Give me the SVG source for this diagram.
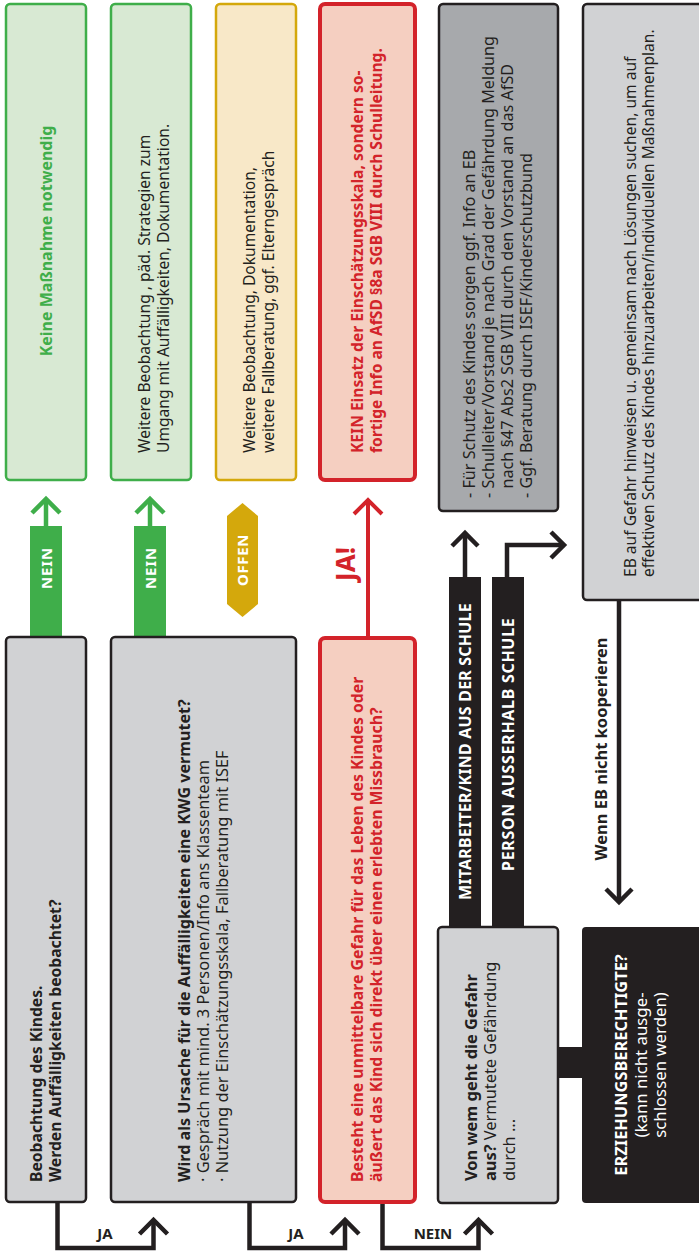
<svg xmlns="http://www.w3.org/2000/svg" width="699" height="1254" viewBox="0 0 699 1254">
<style>
.t{font-family:"Noto Sans","Open Sans","DejaVu Sans",sans-serif;font-size:15px;fill:#231f20}
.b{font-weight:bold}
.w{fill:#ffffff}
.r{fill:#d3232a}
.g{fill:#3fae4a}
.gray{fill:#d1d2d4;stroke:#231f20;stroke-width:2.5}
.dgray{fill:#a7a9ac;stroke:#231f20;stroke-width:2.5}
.gbox{fill:#d8e9d3;stroke:#3fae4a;stroke-width:2.5}
.ybox{fill:#f8e8c8;stroke:#d4a80c;stroke-width:2.5}
.rbox{fill:#f5cfc1;stroke:#d3232a;stroke-width:4}
.ln{fill:none;stroke:#231f20;stroke-width:4.5;stroke-linejoin:miter}
.gln{fill:none;stroke:#3fae4a;stroke-width:4.5}
.rln{fill:none;stroke:#d3232a;stroke-width:4}
</style>
<g id="connectors">
  <path class="ln" d="M57.5,1202 V1248 H153.5 V1221"/>
  <path class="ln" d="M139.5,1234 L153.5,1220 L167.5,1234"/>
  <path class="ln" d="M249.5,1202 V1248 H345 V1221"/>
  <path class="ln" d="M331,1234 L345,1220 L359,1234"/>
  <path class="ln" d="M382.5,1204 V1248 H478.5 V1221"/>
  <path class="ln" d="M464.5,1234 L478.5,1220 L492.5,1234"/>
  <text class="t b" x="105" y="1239" text-anchor="middle">JA</text>
  <text class="t b" x="296" y="1239" text-anchor="middle">JA</text>
  <text class="t b" x="433" y="1239" text-anchor="middle">NEIN</text>
  <rect x="30" y="526" width="32" height="111" fill="#3fae4a"/>
  <path class="gln" d="M46,526 V500"/>
  <path class="gln" d="M32,513 L46,499 L60,513"/>
  <text class="t b w" style="font-size:15px" letter-spacing="0.8" transform="translate(51.5,568) rotate(-90)" text-anchor="middle">NEIN</text>
  <rect x="134" y="526" width="32" height="111" fill="#3fae4a"/>
  <path class="gln" d="M150,526 V500"/>
  <path class="gln" d="M136,513 L150,499 L164,513"/>
  <text class="t b w" style="font-size:15px" letter-spacing="0.8" transform="translate(155.5,568) rotate(-90)" text-anchor="middle">NEIN</text>
  <polygon points="242.5,503 258,516 258,604 242.5,617 227,604 227,516" fill="#d4a80c"/>
  <text class="t b w" style="font-size:15px" letter-spacing="0.6" transform="translate(248,560) rotate(-90)" text-anchor="middle">OFFEN</text>
  <path class="rln" d="M368,636 V501"/>
  <path class="rln" d="M354,514 L368,500 L382,514"/>
  <text class="t b r" style="font-size:26px" transform="translate(355,564) rotate(-90)" text-anchor="middle">JA!</text>
  <rect x="449" y="577" width="32" height="352" fill="#231f20"/>
  <rect x="492" y="577" width="32" height="352" fill="#231f20"/>
  <text class="t b w" style="font-size:16px" letter-spacing="0.2" transform="translate(471,900) rotate(-90)">MITARBEITER/KIND AUS DER SCHULE</text>
  <text class="t b w" style="font-size:16px" letter-spacing="0.7" transform="translate(514,871) rotate(-90)">PERSON AUSSERHALB SCHULE</text>
  <path class="ln" d="M465,577 V533"/>
  <path class="ln" d="M452,546 L465,533 L478,546"/>
  <path class="ln" d="M507,577 V545 H563"/>
  <path class="ln" d="M551,532 L564,545 L551,558"/>
  <path class="ln" d="M619,600 V901"/>
  <path class="ln" d="M606,889 L619,902 L632,889"/>
  <text class="t b" style="font-size:16.5px" transform="translate(607,749) rotate(-90)" text-anchor="middle">Wenn EB nicht kooperieren</text>
  <rect x="556" y="1047" width="28" height="31" fill="#231f20"/>
</g>
<g id="n-keine">
  <rect class="gbox" x="6" y="4" width="80" height="476" rx="4"/>
  <text class="t b g" style="font-size:16px" transform="translate(52,241) rotate(-90)" text-anchor="middle">Keine Maßnahme notwendig</text>
</g>
<g id="n-weitere1">
  <rect class="gbox" x="111" y="4" width="80" height="476" rx="4"/>
  <text class="t" style="font-size:15.6px" transform="translate(150,453) rotate(-90)"><tspan x="0" y="0">Weitere Beobachtung , päd. Strategien zum</tspan><tspan x="0" y="19">Umgang mit Auffälligkeiten, Dokumentation.</tspan></text>
</g>
<g id="n-weitere2">
  <rect class="ybox" x="216" y="4" width="80" height="476" rx="4"/>
  <text class="t" style="font-size:15.6px" transform="translate(255,453) rotate(-90)"><tspan x="0" y="0">Weitere Beobachtung, Dokumentation,</tspan><tspan x="0" y="19">weitere Fallberatung, ggf. Elterngespräch</tspan></text>
</g>
<g id="n-kein">
  <rect class="rbox" x="320" y="4" width="95" height="476" rx="5"/>
  <text class="t b r" style="font-size:15.6px" transform="translate(363,453) rotate(-90)"><tspan x="0" y="0">KEIN Einsatz der Einschätzungsskala, sondern so-</tspan><tspan x="0" y="19">fortige Info an AfSD §8a SGB VIII durch Schulleitung.</tspan></text>
</g>
<g id="n-schutz">
  <rect class="dgray" x="439" y="4" width="119" height="507" rx="4"/>
  <text class="t" style="font-size:16.2px" transform="translate(475,498) rotate(-90)"><tspan x="0" y="0">- Für Schutz des Kindes sorgen ggf. Info an EB</tspan><tspan x="0" y="19">- Schulleiter/Vorstand je nach Grad der Gefährdung Meldung</tspan><tspan x="9.5" y="38">nach §47 Abs2 SGB VIII durch den Vorstand an das AfSD</tspan><tspan x="0" y="57">- Ggf. Beratung durch ISEF/Kinderschutzbund</tspan></text>
</g>
<g id="n-eb">
  <rect class="gray" x="583" y="4" width="122" height="596" rx="4"/>
  <text class="t" style="font-size:15.6px" transform="translate(636,577) rotate(-90)"><tspan x="0" y="0">EB auf Gefahr hinweisen u. gemeinsam nach Lösungen suchen, um auf</tspan><tspan x="0" y="18">effektiven Schutz des Kindes hinzuarbeiten/individuellen Maßnahmenplan.</tspan></text>
</g>
<g id="n-beobachtung">
  <rect class="gray" x="6" y="637" width="80" height="565" rx="4"/>
  <text class="t b" style="font-size:15.7px" transform="translate(42,1182) rotate(-90)"><tspan x="0" y="0">Beobachtung des Kindes.</tspan><tspan x="0" y="19">Werden Auffälligkeiten beobachtet?</tspan></text>
</g>
<g id="n-ursache">
  <rect class="gray" x="111" y="637" width="185" height="565" rx="4"/>
  <text class="t" style="font-size:16.4px" transform="translate(190,1182) rotate(-90)"><tspan class="b" style="font-size:16.1px" x="0" y="0">Wird als Ursache für die Auffälligkeiten eine KWG vermutet?</tspan><tspan x="0" y="19">· Gespräch mit mind. 3 Personen/Info ans Klassenteam</tspan><tspan x="0" y="38">· Nutzung der Einschätzungsskala, Fallberatung mit ISEF</tspan></text>
</g>
<g id="n-gefahr">
  <rect class="rbox" x="320" y="638" width="95" height="564" rx="5"/>
  <text class="t b r" style="font-size:15.8px" transform="translate(363,1182) rotate(-90)"><tspan x="0" y="0">Besteht eine unmittelbare Gefahr für das Leben des Kindes oder</tspan><tspan x="0" y="19">äußert das Kind sich direkt über einen erlebten Missbrauch?</tspan></text>
</g>
<g id="n-vonwem">
  <rect class="gray" x="438" y="927" width="120" height="276" rx="4"/>
  <text class="t" style="font-size:16.4px" transform="translate(477,1181) rotate(-90)"><tspan class="b" x="0" y="0">Von wem geht die Gefahr</tspan><tspan x="0" y="19"><tspan class="b">aus?</tspan> Vermutete Gefährdung</tspan><tspan x="0" y="38">durch ...</tspan></text>
</g>
<g id="n-erziehung">
  <rect x="582" y="927" width="122" height="276" rx="4" fill="#231f20"/>
  <text class="t w" style="font-size:16.8px" transform="translate(627,1065) rotate(-90)" text-anchor="middle"><tspan class="b" style="font-size:16.4px" x="0" y="0">ERZIEHUNGSBERECHTIGTE?</tspan><tspan x="0" y="20">(kann nicht ausge-</tspan><tspan x="0" y="39">schlossen werden)</tspan></text>
</g>
</svg>
